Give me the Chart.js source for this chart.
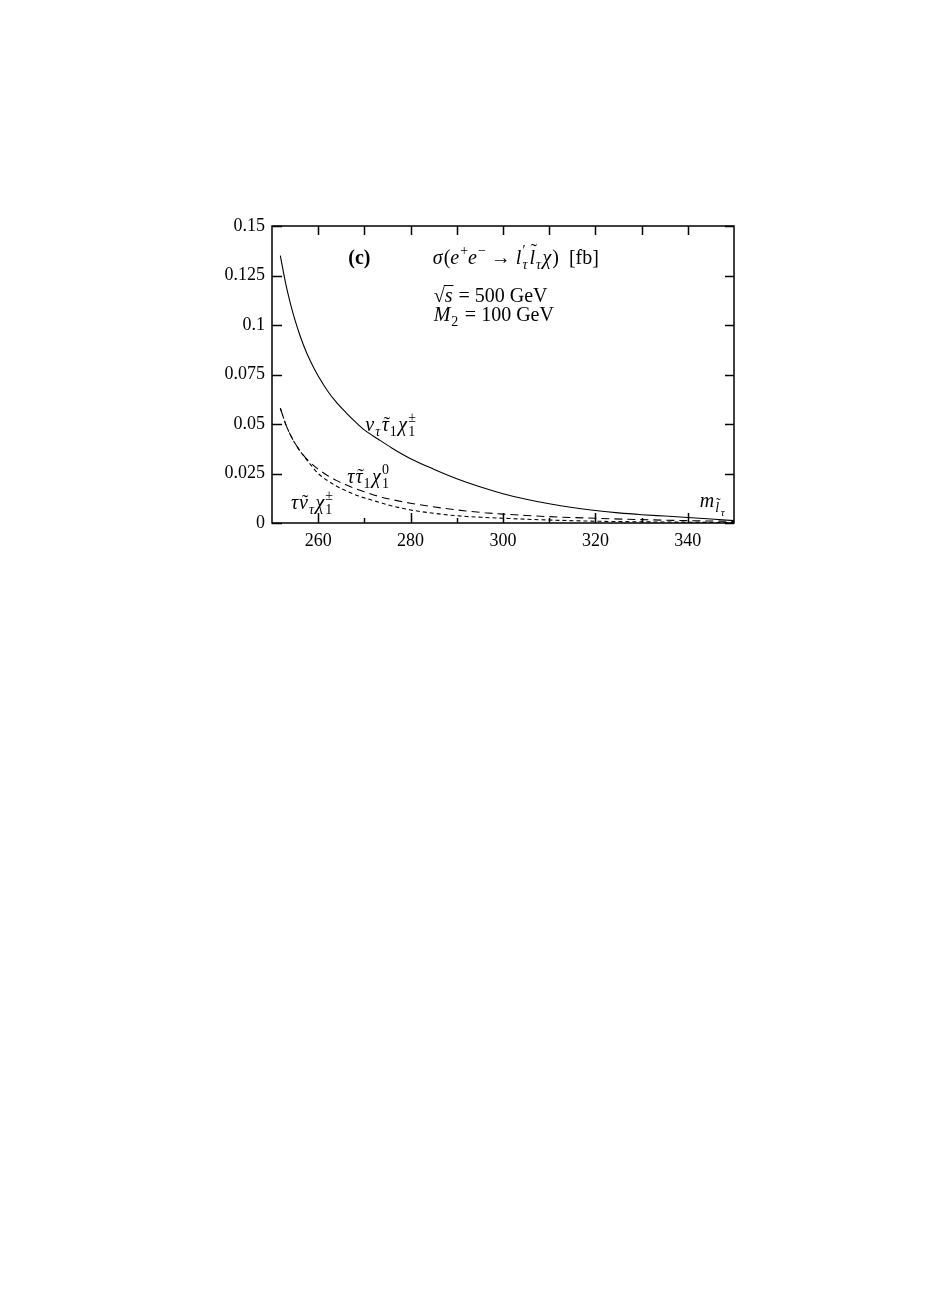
<!DOCTYPE html>
<html>
<head>
<meta charset="utf-8">
<script src="https://cdn.jsdelivr.net/npm/chart.js@4.4.1/dist/chart.umd.min.js"></script>
<style>
html,body{margin:0;padding:0;background:#fff;}
#wrap{position:relative;width:926px;height:1309px;background:#fff;}
canvas{position:absolute;left:0;top:0;}
</style>
</head>
<body>
<div id="wrap"><canvas id="c" width="926" height="620"></canvas></div>
<script>
// ---- data ----
const xTicksMajor = [260, 280, 300, 320, 340];
const xTicksMinor = [270, 290, 310, 330];
const yTicks = [0, 0.025, 0.05, 0.075, 0.1, 0.125, 0.15];

const xCharged = [251.8, 253, 254, 255, 256, 257, 258, 259, 260, 262, 264, 266, 268, 270, 273, 276, 280, 285, 290, 295, 300, 305, 310, 315, 320, 325, 330, 335, 340, 345, 350];
const yCharged = [0.135, 0.1205, 0.1107, 0.1023, 0.0951, 0.0888, 0.0833, 0.0785, 0.0742, 0.0668, 0.0608, 0.0558, 0.0512, 0.0470, 0.0423, 0.0378, 0.0325, 0.0272, 0.0224, 0.0183, 0.0148, 0.0120, 0.0097, 0.0078, 0.0063, 0.0051, 0.0042, 0.0035, 0.0028, 0.0020, 0.0012];

const xNeutral = [251.8, 253, 254, 255, 256, 257, 258, 260, 262, 264, 266, 268, 270, 273, 276, 280, 284, 288, 292, 296, 300, 305, 310, 320, 330, 340, 350];
const yNeutral = [0.058, 0.0497, 0.0444, 0.0402, 0.0366, 0.0337, 0.0312, 0.0272, 0.0240, 0.0214, 0.0193, 0.0174, 0.0158, 0.0135, 0.0118, 0.0100, 0.0085, 0.0072, 0.0061, 0.0052, 0.0045, 0.0038, 0.0032, 0.0024, 0.0017, 0.0012, 0.0008];

const xSneutrino = [251.8, 253, 254, 255, 256, 257, 258, 260, 262, 264, 266, 268, 270, 273, 276, 280, 284, 288, 292, 296, 300, 305, 310, 320, 330, 340, 350];
const ySneutrino = [0.058, 0.0497, 0.0444, 0.0402, 0.0366, 0.0335, 0.0305, 0.0250, 0.0214, 0.0186, 0.0163, 0.0143, 0.0127, 0.0106, 0.0086, 0.0066, 0.0052, 0.0041, 0.0033, 0.0028, 0.0024, 0.0019, 0.0015, 0.0009, 0.0006, 0.0004, 0.0002];

const pts = (xs, ys) => xs.map((x, i) => ({x: x, y: ys[i]}));

// ---- annotation texts (anchor in data units: left x, baseline y) ----
const annotations = [
  {x: 266.5, y: 0.1308, segs: [{t: '(c)', f: 'b'}]},
  {x: 284.8, y: 0.1308, segs: [
    {t: 'σ', f: 'i'}, {t: '(', f: 'n'}, {t: 'e', f: 'i'}, {t: '+', f: 'n', v: 'sup'},
    {t: 'e', f: 'i'}, {t: '−', f: 'n', v: 'sup'}, {t: ' → ', f: 'n'},
    {t: 'l', f: 'i'}, {sub: 'τ', sup: '′', subF: 'i', supF: 'n'},
    {t: 'l', f: 'i', tilde: 'high'}, {t: 'τ', f: 'i', v: 'sub'},
    {t: 'χ', f: 'i'}, {t: ')  [fb]', f: 'n'}]},
  {x: 285, y: 0.1116, segs: [{t: '√', f: 'n'}, {t: 's', f: 'i', over: true}, {t: ' = 500 GeV', f: 'n'}]},
  {x: 285, y: 0.1020, segs: [{t: 'M', f: 'i'}, {t: '2', f: 'n', v: 'sub'}, {t: ' = 100 GeV', f: 'n'}]},
  {x: 270.2, y: 0.0465, segs: [{t: 'ν', f: 'i'}, {t: 'τ', f: 'i', v: 'sub'}, {t: 'τ', f: 'i', tilde: 'low'}, {t: '1', f: 'n', v: 'sub'}, {t: 'χ', f: 'i'}, {sub: '1', sup: '±', subF: 'n', supF: 'n'}]},
  {x: 266.3, y: 0.0202, segs: [{t: 'τ', f: 'i'}, {t: 'τ', f: 'i', tilde: 'low'}, {t: '1', f: 'n', v: 'sub'}, {t: 'χ', f: 'i'}, {sub: '1', sup: '0', subF: 'n', supF: 'n'}]},
  {x: 254.1, y: 0.0071, segs: [{t: 'τ', f: 'i'}, {t: 'ν', f: 'i', tilde: 'low'}, {t: 'τ', f: 'i', v: 'sub'}, {t: 'χ', f: 'i'}, {sub: '1', sup: '±', subF: 'n', supF: 'n'}]},
  {x: 342.6, y: 0.0081, segs: [{t: 'm', f: 'i'}, {t: 'l', f: 'i', v: 'sub', tilde: 'high'}, {t: 'τ', f: 'i', v: 'subsub'}]}
];

const FAM = '"Liberation Serif", "DejaVu Serif", serif';
const BASE = 20, SCRIPT = 14, SSCRIPT = 11;
function fontFor(f, size) {
  if (f === 'i') return 'italic ' + size + 'px ' + FAM;
  if (f === 'b') return 'bold ' + size + 'px ' + FAM;
  return size + 'px ' + FAM;
}
function drawRich(ctx, x, y, segs) {
  let cx = x;
  segs.forEach(s => {
    if (s.sub !== undefined) {
      ctx.font = fontFor(s.subF, SCRIPT);
      const w1 = ctx.measureText(s.sub).width;
      ctx.fillText(s.sub, cx, y + 5);
      ctx.font = fontFor(s.supF, SCRIPT);
      const w2 = ctx.measureText(s.sup).width;
      ctx.fillText(s.sup, cx, y - 9);
      cx += Math.max(w1, w2) + 2;
      return;
    }
    let size = BASE, dy = 0;
    if (s.v === 'sub') { size = SCRIPT; dy = 5; }
    else if (s.v === 'sup') { size = SCRIPT; dy = -9; }
    else if (s.v === 'subsub') { size = SSCRIPT; dy = 9; }
    ctx.font = fontFor(s.f, size);
    ctx.fillText(s.t, cx, y + dy);
    const w = ctx.measureText(s.t).width;
    if (s.tilde) {
      ctx.font = fontFor('n', size);
      const tw = ctx.measureText('˜').width;
      const lift = s.tilde === 'high' ? size * 0.28 : 0;
      ctx.fillText('˜', cx + w / 2 - tw / 2 + size * 0.08, y + dy - lift);
    }
    if (s.over) {
      ctx.beginPath();
      ctx.lineWidth = 1;
      ctx.moveTo(cx - 1, y - 16.5);
      ctx.lineTo(cx + w + 1, y - 16.5);
      ctx.stroke();
    }
    cx += w + (s.f === 'i' && !s.v ? 1 : 0) + (s.v === 'sub' || s.v === 'subsub' ? 1.5 : 0);
  });
}

const framePlugin = {
  id: 'frame',
  afterDatasetsDraw(chart) {
    const ctx = chart.ctx, a = chart.chartArea;
    const xs = chart.scales.x, ys = chart.scales.y;
    ctx.save();
    ctx.strokeStyle = '#000';
    ctx.fillStyle = '#000';
    ctx.lineWidth = 1.5;
    ctx.strokeRect(a.left, a.top, a.right - a.left, a.bottom - a.top);
    ctx.beginPath();
    xTicksMajor.forEach(v => {
      const p = Math.round(xs.getPixelForValue(v)) + 0.5;
      ctx.moveTo(p, a.bottom); ctx.lineTo(p, a.bottom - 10);
      ctx.moveTo(p, a.top); ctx.lineTo(p, a.top + 9);
    });
    xTicksMinor.forEach(v => {
      const p = Math.round(xs.getPixelForValue(v)) + 0.5;
      ctx.moveTo(p, a.bottom); ctx.lineTo(p, a.bottom - 5);
      ctx.moveTo(p, a.top); ctx.lineTo(p, a.top + 9);
    });
    yTicks.forEach(v => {
      const p = Math.round(ys.getPixelForValue(v)) + 0.5;
      ctx.moveTo(a.left, p); ctx.lineTo(a.left + 10, p);
      ctx.moveTo(a.right, p); ctx.lineTo(a.right - 9, p);
    });
    ctx.stroke();
    ctx.textBaseline = 'alphabetic';
    ctx.textAlign = 'left';
    ctx.lineWidth = 1;
    annotations.forEach(an => {
      drawRich(ctx, xs.getPixelForValue(an.x), ys.getPixelForValue(an.y), an.segs);
    });
    ctx.restore();
  }
};

const lineDs = (label, data, dash) => ({
  label: label, data: data, borderColor: '#000', borderWidth: 1.1,
  borderDash: dash, pointRadius: 0, fill: false, showLine: true,
  cubicInterpolationMode: 'monotone'
});

new Chart(document.getElementById('c'), {
  type: 'scatter',
  data: {
    datasets: [
      lineDs('ντ τ̃1 χ1±', pts(xCharged, yCharged), []),
      lineDs('τ τ̃1 χ1⁰', pts(xNeutral, yNeutral), [8, 5]),
      lineDs('τ ν̃τ χ1±', pts(xSneutrino, ySneutrino), [4, 3])
    ]
  },
  options: {
    responsive: false,
    animation: false,
    devicePixelRatio: 1,
    layout: {padding: {left: 212, right: 192, top: 226, bottom: 57}},
    plugins: {legend: {display: false}, tooltip: {enabled: false}},
    scales: {
      x: {
        type: 'linear', min: 250, max: 350,
        afterBuildTicks: s => { s.ticks = xTicksMajor.map(v => ({value: v})); },
        afterFit: s => { s.height = 40; },
        grid: {display: false, drawTicks: false},
        border: {display: false},
        ticks: {color: '#000', font: {family: FAM, size: 18}, padding: 7, maxRotation: 0,
                callback: v => String(v)}
      },
      y: {
        type: 'linear', min: 0, max: 0.15,
        afterBuildTicks: s => { s.ticks = yTicks.map(v => ({value: v})); },
        afterFit: s => { s.width = 60; },
        grid: {display: false, drawTicks: false},
        border: {display: false},
        ticks: {color: '#000', font: {family: FAM, size: 18}, padding: 7,
                callback: v => String(v)}
      }
    }
  },
  plugins: [framePlugin]
});
</script>
</body>
</html>
